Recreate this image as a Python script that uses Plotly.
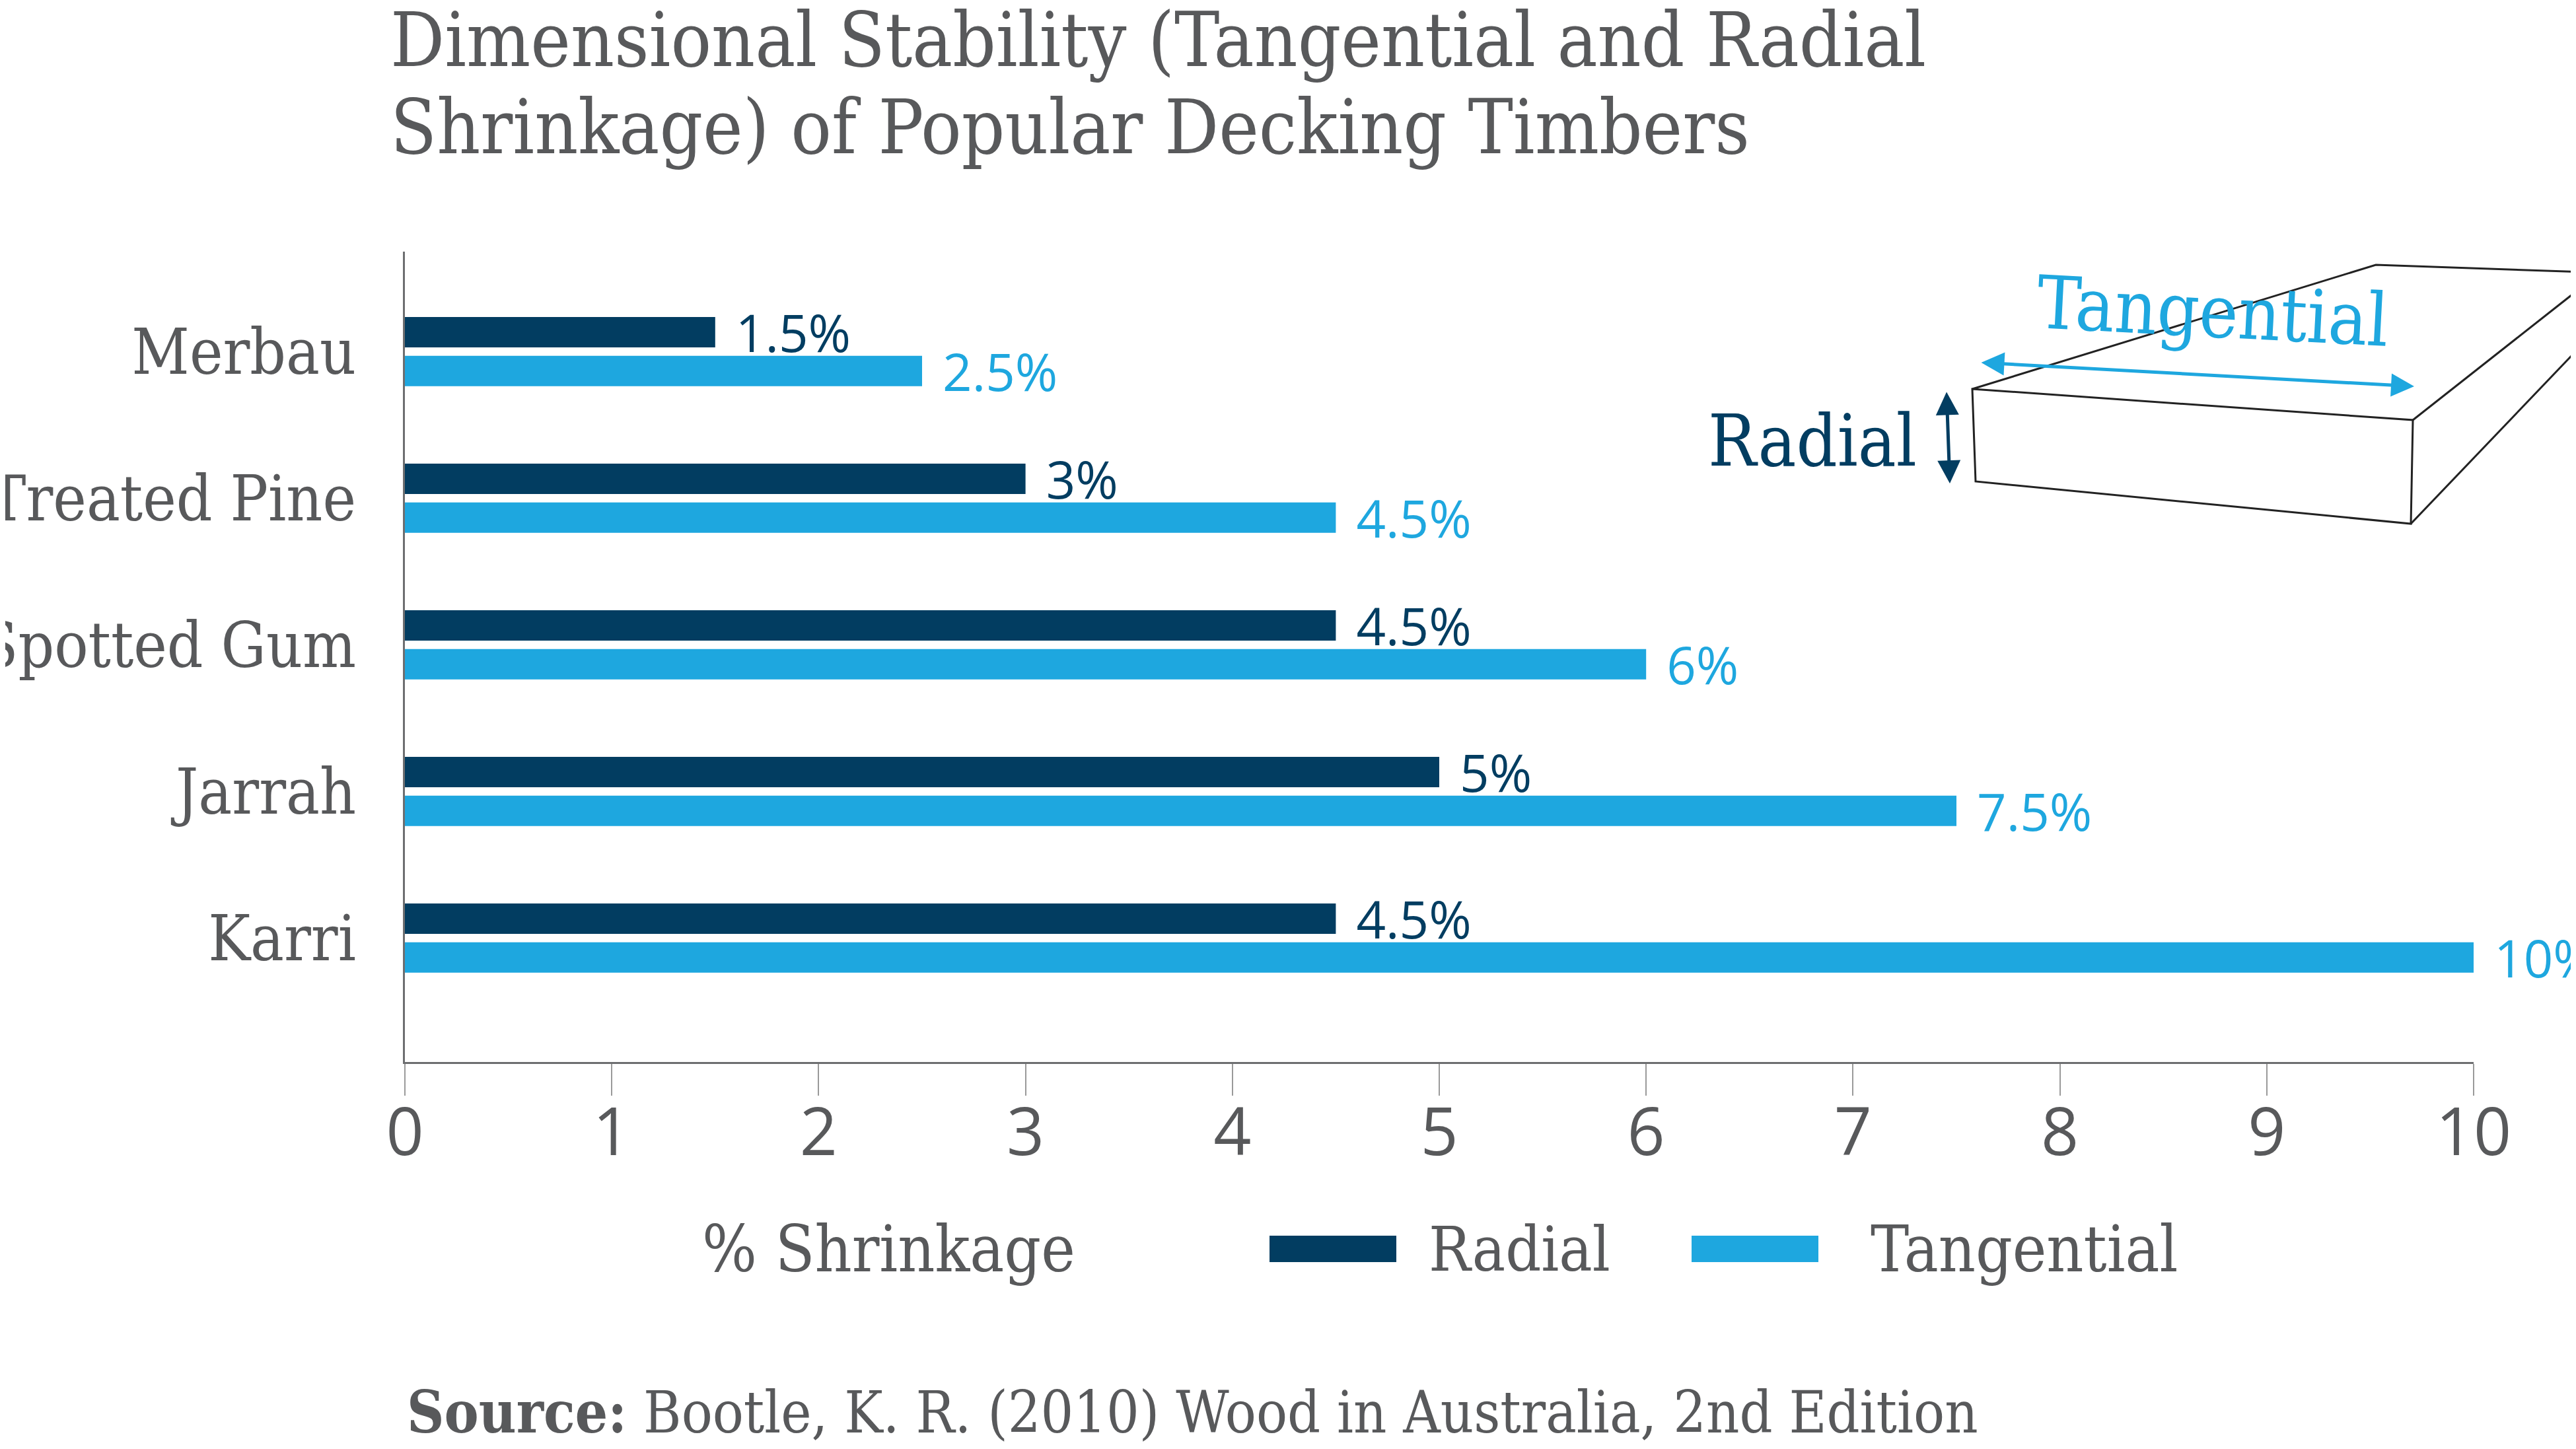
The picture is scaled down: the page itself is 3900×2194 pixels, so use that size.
import plotly.graph_objects as go

# ---- data ----
timbers = ["Merbau", "Treated Pine", "Spotted Gum", "Jarrah", "Karri"]
radial = [1.5, 3, 4.5, 5, 4.5]
tangential = [2.5, 4.5, 6, 7.5, 10]
x_ticks = [0, 1, 2, 3, 4, 5, 6, 7, 8, 9, 10]

NAVY = "#023d61"
BLUE = "#1ea7df"
GRAY = "#58595b"
SLAB = "DejaVu Serif Condensed, DejaVu Serif, serif"
SANS = "Open Sans, Roboto, sans-serif"

W, H = 3900, 2194
L0, R0, T0, B0 = 611, 3743, 380, 1607   # measured plot-area edges
OX, OY = -6, -7                          # render offset correction
L, R, T, B = L0 + OX, R0 + OX, T0 + OY, B0 + OY


def px(x):
    # paper x for a measured reference pixel (offset applied via plot area)
    return (x - L0) / (R0 - L0)


def py(y):
    return (B0 - y) / (B0 - T0)


fig = go.Figure()
fig.add_trace(go.Bar(
    y=timbers, x=radial, orientation="h", name="Radial",
    marker=dict(color=NAVY, line=dict(width=0)),
    width=0.207, offset=-0.236,
    texttemplate="\u00a0\u200a%{x}%", textposition="outside",
    textfont=dict(family=SANS, size=78, color=NAVY),
    constraintext="none", cliponaxis=False, showlegend=False,
))
fig.add_trace(go.Bar(
    y=timbers, x=tangential, orientation="h", name="Tangential",
    marker=dict(color=BLUE, line=dict(width=0)),
    width=0.207, offset=0.029,
    texttemplate="\u00a0\u200a%{x}%", textposition="outside",
    textfont=dict(family=SANS, size=78, color=BLUE),
    constraintext="none", cliponaxis=False, showlegend=False,
))

fig.update_layout(
    width=W, height=H,
    margin=dict(l=L, r=W - R, t=T, b=H - B, pad=0),
    paper_bgcolor="white", plot_bgcolor="white",
    barmode="overlay",
    showlegend=False,
    xaxis=dict(
        range=[0, 10], tickvals=x_ticks, ticktext=[str(v) for v in x_ticks],
        showgrid=False, zeroline=False, automargin=False,
        showline=True, linecolor="#6d6e70", linewidth=3,
        ticks="outside", ticklen=48, tickwidth=2, tickcolor="#9a9a9a",
        ticklabelstandoff=-30,
        tickfont=dict(family=SANS, size=100, color=GRAY),
    ),
    yaxis=dict(
        categoryorder="array", categoryarray=timbers,
        range=[4.845, -0.682],
        showgrid=False, zeroline=False, automargin=False,
        showline=True, linecolor="#6d6e70", linewidth=3,
        ticks="", ticklabelstandoff=52,
        tickfont=dict(family=SLAB, size=95, color=GRAY),
    ),
)

shapes = []
annotations = []

# title (two lines)
annotations.append(dict(text="Dimensional Stability (Tangential and Radial",
                        xref="paper", yref="paper", x=px(587), y=py(60),
                        xanchor="left", yanchor="middle", showarrow=False,
                        font=dict(family=SLAB, size=114, color=GRAY)))
annotations.append(dict(text="Shrinkage) of Popular Decking Timbers",
                        xref="paper", yref="paper", x=px(587), y=py(192),
                        xanchor="left", yanchor="middle", showarrow=False,
                        font=dict(family=SLAB, size=114, color=GRAY)))

# legend (manual, large swatches)
shapes.append(dict(type="rect", xref="paper", yref="paper",
                   x0=px(1920), x1=px(2112), y0=py(1910), y1=py(1870),
                   fillcolor=NAVY, line=dict(width=0)))
shapes.append(dict(type="rect", xref="paper", yref="paper",
                   x0=px(2559), x1=px(2751), y0=py(1910), y1=py(1870),
                   fillcolor=BLUE, line=dict(width=0)))
annotations.append(dict(text="% Shrinkage", xref="paper", yref="paper",
                        x=px(1343), y=py(1890), xanchor="center", yanchor="middle",
                        showarrow=False, font=dict(family=SLAB, size=97, color=GRAY)))
annotations.append(dict(text="Radial", xref="paper", yref="paper",
                        x=px(2159), y=py(1890), xanchor="left", yanchor="middle",
                        showarrow=False, font=dict(family=SLAB, size=94, color=GRAY)))
annotations.append(dict(text="Tangential", xref="paper", yref="paper",
                        x=px(2828), y=py(1890), xanchor="left", yanchor="middle",
                        showarrow=False, font=dict(family=SLAB, size=97, color=GRAY)))

# source
annotations.append(dict(
    text="<b>Source:</b> Bootle, K. R. (2010) Wood in Australia, 2nd Edition",
    xref="paper", yref="paper", x=px(612), y=py(2137),
    xanchor="left", yanchor="middle", showarrow=False,
    font=dict(family=SLAB, size=87, color=GRAY)))

# board illustration
LINE = dict(color="#222222", width=3)


def path(pts, close=False):
    s = "M " + " L ".join(f"{px(a):.5f},{py(b):.5f}" for a, b in pts)
    return s + (" Z" if close else "")


shapes.append(dict(type="path", xref="paper", yref="paper", layer="above",
                   path=path([(2984, 588), (3651, 635), (3648, 792), (2989, 728)], close=True),
                   fillcolor="rgba(0,0,0,0)", line=LINE))
shapes.append(dict(type="path", xref="paper", yref="paper",
                   path=path([(2984, 588), (3595, 400), (3910, 411)]),
                   line=LINE))
shapes.append(dict(type="path", xref="paper", yref="paper",
                   path=path([(3651, 635), (3910, 431)]), line=LINE))
shapes.append(dict(type="path", xref="paper", yref="paper",
                   path=path([(3648, 792), (3910, 518)]), line=LINE))

# arrows
annotations.append(dict(text="", xref="paper", yref="paper",
                        x=px(3653), y=py(584), ax=2996 - 3653, ay=548 - 584,
                        showarrow=True, arrowhead=2, arrowside="end+start",
                        arrowwidth=5, arrowsize=1.4, arrowcolor=BLUE))
annotations.append(dict(text="", xref="paper", yref="paper",
                        x=px(2950), y=py(731), ax=2945 - 2950, ay=591 - 731,
                        showarrow=True, arrowhead=2, arrowside="end+start",
                        arrowwidth=5, arrowsize=1.4, arrowcolor=NAVY))
annotations.append(dict(text="Tangential", xref="paper", yref="paper",
                        x=px(3348), y=py(470), xanchor="center", yanchor="middle",
                        textangle=3, showarrow=False,
                        font=dict(family=SLAB, size=111, color=BLUE)))
annotations.append(dict(text="Radial", xref="paper", yref="paper",
                        x=px(2902), y=py(666), xanchor="right", yanchor="middle",
                        showarrow=False,
                        font=dict(family=SLAB, size=108, color=NAVY)))

fig.update_layout(shapes=shapes, annotations=annotations)
fig.write_html("out.html")
